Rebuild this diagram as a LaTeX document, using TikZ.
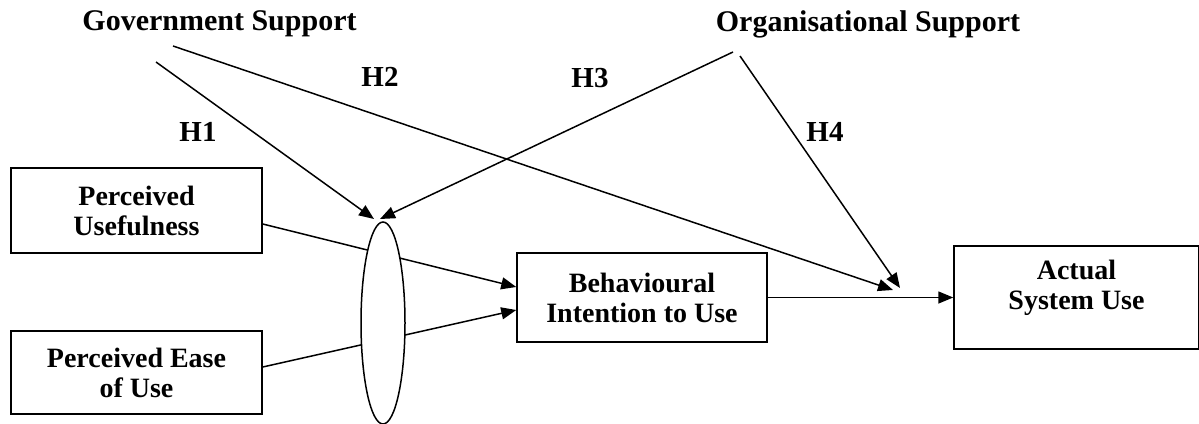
\documentclass[tikz,border=0pt]{standalone}
\usepackage{fontspec}
\setmainfont{Liberation Serif}
\usetikzlibrary{arrows.meta,shapes.geometric}
\tikzset{
  box/.style={draw, line width=1.5pt, align=center, font=\bfseries\fontsize{28}{30}\selectfont},
  head/.style={font=\bfseries\fontsize{30}{32}\selectfont},
  hyp/.style={font=\bfseries\fontsize{29}{30}\selectfont},
  link/.style={line width=1.5pt, -{Triangle[length=15pt,width=12pt]}}
}

\begin{document}
\begin{tikzpicture}[x=1pt,y=-1pt]
  \useasboundingbox (0,0) rectangle (1199,423);
  % constructs
  \node[box, minimum width=251pt, minimum height=85pt] (pu) at (136.5,210.5) {Perceived\\Usefulness};
  \node[box, minimum width=251pt, minimum height=83pt] (peu) at (136.5,372.5) {Perceived Ease\\of Use};
  \node[box, minimum width=250pt, minimum height=89pt] (bi) at (642,297.5) {Behavioural\\Intention to Use};
  \node[box, minimum width=245pt, minimum height=103pt, text depth=25pt] (asu) at (1076.5,297.5) {Actual\\System Use};
  % moderators and hypotheses
  \node[head, anchor=base] (gs) at (219.5,30) {Government Support};
  \node[head, anchor=base] (os) at (868,31) {Organisational Support};
  \foreach \h/\x/\y in {H1/198/132, H2/380/77, H3/590/78, H4/825/132}{
    \node[hyp] (\h) at (\x,\y) {\h};
  }
  % inputs into intention
  \draw[link] ([yshift=-13.5pt]pu.east) -- ([yshift=10.5pt]bi.west);
  \draw[link] ([yshift=5.5pt]peu.east) -- ([yshift=-12.5pt]bi.west);
  \node[draw, ellipse, fill=white, line width=1.5pt, minimum width=44pt, minimum height=202pt, inner sep=0pt] (mod) at (383,323) {};
  \draw[link] (bi) -- (asu);
  % moderating paths
  \coordinate (gs1) at (156,62);
  \coordinate (gs2) at (173,46);
  \coordinate (os1) at (733,52);
  \coordinate (os2) at (740,56);
  \coordinate (t1) at (374,219);
  \coordinate (t3) at (380,219);
  \coordinate (t2) at (893,290);
  \coordinate (t4) at (900,288);
  \draw[link] (gs1) -- (t1);
  \draw[link] (gs2) -- (t2);
  \draw[link] (os1) -- (t3);
  \draw[link] (os2) -- (t4);
\end{tikzpicture}
\end{document}
